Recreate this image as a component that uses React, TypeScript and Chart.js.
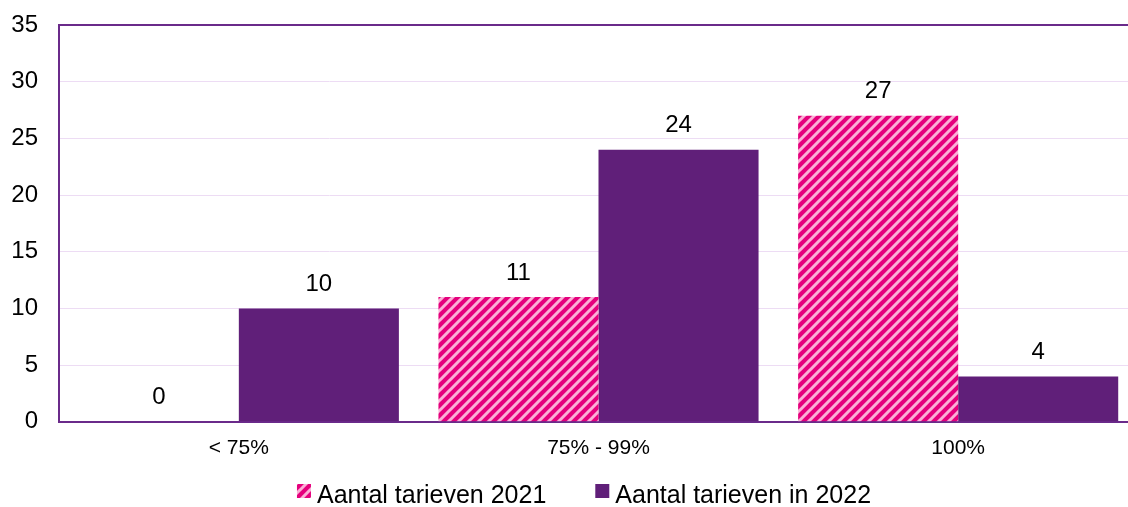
import React, { useEffect, useRef } from "react";
import { Chart, registerables } from "chart.js";

Chart.register(...registerables);

const categories = ["< 75%", "75% - 99%", "100%"];
const seriesNames = ["Aantal tarieven 2021", "Aantal tarieven in 2022"];
const values2021 = [0, 11, 27];
const values2022 = [10, 24, 4];
const yMin = 0;
const yMax = 35;
const yStep = 5;

const PINK = "#e5007d";
const PINK_LIGHT = "#fbb0d6";
const PURPLE = "#601f79";
const AXIS = "#6a2a8a";
const GRID = "#eddcf4";
const FONT = "'Liberation Sans', Arial, sans-serif";

function makeHatch(): CanvasPattern | string {
  const s = 10;
  const c = document.createElement("canvas");
  c.width = s;
  c.height = s;
  const g = c.getContext("2d");
  if (!g) return PINK;
  g.fillStyle = PINK;
  g.fillRect(0, 0, s, s);
  g.strokeStyle = PINK_LIGHT;
  g.lineWidth = 3;
  g.beginPath();
  g.moveTo(-3, 3);
  g.lineTo(3, -3);
  g.moveTo(0, s);
  g.lineTo(s, 0);
  g.moveTo(s - 3, s + 3);
  g.lineTo(s + 3, s - 3);
  g.stroke();
  return g.createPattern(c, "repeat") || PINK;
}

const valueLabels = {
  id: "valueLabels",
  afterDatasetsDraw(chart: any) {
    const ctx = chart.ctx;
    ctx.save();
    ctx.font = `24px ${FONT}`;
    ctx.fillStyle = "#000";
    ctx.textAlign = "center";
    ctx.textBaseline = "middle";
    chart.data.datasets.forEach((ds: any, i: number) => {
      const meta = chart.getDatasetMeta(i);
      meta.data.forEach((el: any, j: number) => {
        ctx.fillText(String(ds.data[j]), el.x, el.y - 24);
      });
    });
    ctx.restore();
  },
};

// Legend drawn below the plot, centred like the original
const bottomLegend = {
  id: "bottomLegend",
  afterDraw(chart: any) {
    const ctx = chart.ctx;
    const datasets = chart.data.datasets;
    ctx.save();
    ctx.font = `25px ${FONT}`;
    ctx.textBaseline = "alphabetic";
    ctx.textAlign = "left";
    const box = 14;
    const gapBoxText = 6;
    const gapItems = 49;
    const widths = datasets.map((d: any) => box + gapBoxText + ctx.measureText(d.label).width);
    const total = widths.reduce((a: number, b: number) => a + b, 0) + gapItems * (datasets.length - 1);
    const cx = 584;
    const baseline = chart.height - 4;
    let x = cx - total / 2;
    datasets.forEach((d: any, i: number) => {
      ctx.fillStyle = d.backgroundColor;
      ctx.fillRect(x, baseline - 19, box, box);
      ctx.fillStyle = "#000";
      ctx.fillText(d.label, x + box + gapBoxText, baseline);
      x += widths[i] + gapItems;
    });
    ctx.restore();
  },
};

export default function App() {
  const ref = useRef<HTMLCanvasElement | null>(null);
  useEffect(() => {
    if (!ref.current) return;
    const hatch = makeHatch();
    const chart = new Chart(ref.current, {
      type: "bar",
      data: {
        labels: categories,
        datasets: [
          {
            label: seriesNames[0],
            data: values2021,
            backgroundColor: hatch as any,
            borderWidth: 0,
          },
          {
            label: seriesNames[1],
            data: values2022,
            backgroundColor: PURPLE,
            borderWidth: 0,
          },
        ],
      },
      options: {
        animation: false,
        responsive: false,
        layout: { padding: { top: 25, right: 2, left: 0, bottom: 32 } },
        datasets: {
          bar: { categoryPercentage: 0.89, barPercentage: 1 },
        },
        scales: {
          x: {
            grid: { display: false, drawTicks: false },
            border: { display: true, color: AXIS, width: 2 },
            ticks: {
              color: "#000",
              font: { family: FONT, size: 21 },
              padding: 14,
            },
          },
          y: {
            min: yMin,
            max: yMax,
            ticks: {
              stepSize: yStep,
              color: "#000",
              font: { family: FONT, size: 24 },
              padding: 8,
            },
            grid: {
              drawTicks: true,
              tickLength: 13,
              tickColor: "rgba(0,0,0,0)",
              color: (c: any) => (c.tick && c.tick.value === yMax ? AXIS : GRID),
              lineWidth: (c: any) => (c.tick && c.tick.value === yMax ? 2 : 1),
            },
            border: { display: true, color: AXIS, width: 2 },
            afterFit: (s: any) => {
              s.width = 59;
            },
          },
        },
        plugins: {
          legend: { display: false },
          tooltip: { enabled: false },
        },
      },
      plugins: [valueLabels, bottomLegend],
    });
    return () => chart.destroy();
  }, []);
  return (
    <div style={{ width: 1140, height: 507, overflow: "hidden" }}>
      <style>{`html,body{margin:0;padding:0;overflow:hidden;}`}</style>
      <canvas ref={ref} width={1140} height={507} />
    </div>
  );
}
